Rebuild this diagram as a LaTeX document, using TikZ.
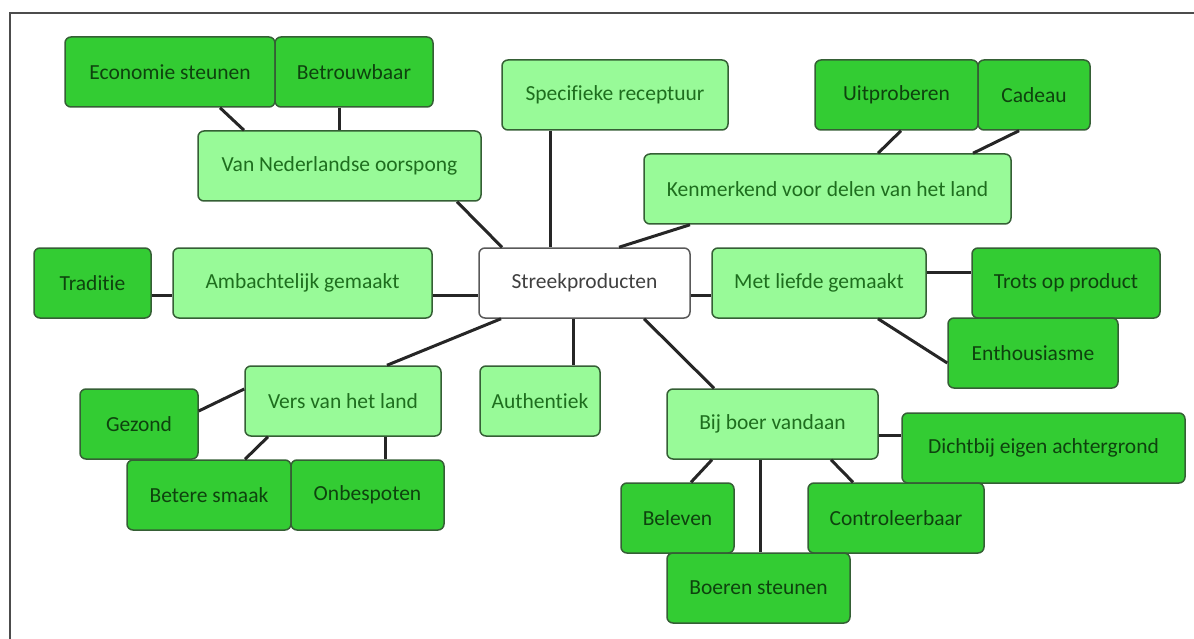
\documentclass[tikz,border=0pt]{standalone}
\usepackage{fontspec}
\setmainfont{Carlito}[Ligatures=NoCommon]
\usetikzlibrary{positioning}
\definecolor{lichtgroen}{HTML}{98FA98}
\definecolor{donkergroen}{HTML}{33CC33}
\definecolor{randgroen}{HTML}{355F35}
\definecolor{tekstgroen}{HTML}{1E6E1E}
\definecolor{tekstdonker}{HTML}{0E420E}
\begin{document}
\begin{tikzpicture}[x=1pt,y=-1pt,
    blok/.style={rectangle, rounded corners=6pt, draw=randgroen, line width=1.5pt,
      minimum height=70pt, inner sep=0pt, font=\fontsize{21.5}{25}\selectfont},
    kern/.style={blok, fill=white, draw=gray!70!black, text=black!75},
    hoofd/.style={blok, fill=lichtgroen, text=tekstgroen},
    neven/.style={blok, fill=donkergroen, text=tekstdonker},
    lijn/.style={line width=3pt, black!85}]
  \useasboundingbox (0,0) rectangle (1194,639);
  \draw[gray!60!black, line width=2.2pt] (10,639) -- (10,13) -- (1194,13);

  \node[kern, minimum width=211pt] (streek) at (584.5,283) {Streekproducten};

  \node[hoofd, minimum width=283pt] (vanned) at (339.5,166) {Van Nederlandse oorspong};
  \node[hoofd, minimum width=226pt] (spec) at (615,95) {Specifieke receptuur};
  \node[hoofd, minimum width=367pt] (kenm) at (827.5,189) {Kenmerkend voor delen van het land};
  \node[hoofd, minimum width=259pt] (amb) at (302.5,283) {Ambachtelijk gemaakt};
  \node[hoofd, minimum width=214pt] (liefde) at (819,283) {Met liefde gemaakt};
  \node[hoofd, minimum width=196pt] (vers) at (343,401) {Vers van het land};
  \node[hoofd, minimum width=120pt] (auth) at (540,401) {Authentiek};
  \node[hoofd, minimum width=211pt] (bij) at (772.5,424) {Bij boer vandaan};

  \node[neven, minimum width=210pt] (eco) at (170,72) {Economie steunen};
  \node[neven, minimum width=158pt] (betr) at (354,72) {Betrouwbaar};
  \node[neven, minimum width=163pt] (uit) at (896.5,95) {Uitproberen};
  \node[neven, minimum width=112pt] (cad) at (1034,95) {Cadeau};
  \node[neven, minimum width=117pt] (trad) at (92.5,283) {Traditie};
  \node[neven, minimum width=188pt] (trots) at (1066,283) {Trots op product};
  \node[neven, minimum width=170pt] (enth) at (1033,353) {Enthousiasme};
  \node[neven, minimum width=118pt] (gez) at (139,424) {Gezond};
  \node[neven, minimum width=164pt] (bet) at (209,495) {Betere smaak};
  \node[neven, minimum width=153pt] (onb) at (367.5,495) {Onbespoten};
  \node[neven, minimum width=283pt] (dicht) at (1043.5,448) {Dichtbij eigen achtergrond};
  \node[neven, minimum width=113pt] (bel) at (677.5,518) {Beleven};
  \node[neven, minimum width=176pt] (contr) at (896,518) {Controleerbaar};
  \node[neven, minimum width=183pt] (boer) at (758.5,588) {Boeren steunen};

  \draw[lijn] ([xshift=50pt]eco.south) -- ([xshift=-95.5pt]vanned.north);
  \draw[lijn] ([xshift=-15pt]betr.south) -- ([xshift=-0.5pt]vanned.north);
  \draw[lijn] ([xshift=117.5pt]vanned.south) -- ([xshift=-82.5pt]streek.north);
  \draw[lijn] ([xshift=-65pt]spec.south) -- ([xshift=-34.5pt]streek.north);
  \draw[lijn] ([xshift=4.5pt]uit.south) -- ([xshift=50.5pt]kenm.north);
  \draw[lijn] ([xshift=-15pt]cad.south) -- ([xshift=145.5pt]kenm.north);
  \draw[lijn] ([xshift=-137.5pt]kenm.south) -- ([xshift=34.5pt]streek.north);
  \draw[lijn] ([yshift=-12pt]trad.east) -- ([yshift=-12pt]amb.west);
  \draw[lijn] ([yshift=-12pt]amb.east) -- ([yshift=-12pt]streek.west);
  \draw[lijn] ([yshift=-12pt]streek.east) -- ([yshift=-12pt]liefde.west);
  \draw[lijn] ([yshift=11pt]liefde.east) -- ([yshift=11pt]trots.west);
  \draw[lijn] ([xshift=59pt]liefde.south) -- ([yshift=-10pt]enth.west);
  \draw[lijn] ([xshift=-83.5pt]streek.south) -- ([xshift=44pt]vers.north);
  \draw[lijn] ([xshift=-11.5pt]streek.south) -- ([xshift=33pt]auth.north);
  \draw[lijn] ([xshift=59.5pt]streek.south) -- ([xshift=-58.5pt]bij.north);
  \draw[lijn] ([yshift=12pt]vers.west) -- ([yshift=13pt]gez.east);
  \draw[lijn] ([xshift=-75pt]vers.south) -- ([xshift=36pt]bet.north);
  \draw[lijn] ([xshift=42pt]vers.south) -- ([xshift=17.5pt]onb.north);
  \draw[lijn] ([yshift=-11pt]bij.east) -- ([yshift=13pt]dicht.west);
  \draw[lijn] ([xshift=-60.5pt]bij.south) -- ([xshift=13.5pt]bel.north);
  \draw[lijn] ([xshift=-12.5pt]bij.south) -- ([xshift=1.5pt]boer.north);
  \draw[lijn] ([xshift=58.5pt]bij.south) -- ([xshift=-43pt]contr.north);
\end{tikzpicture}
\end{document}
